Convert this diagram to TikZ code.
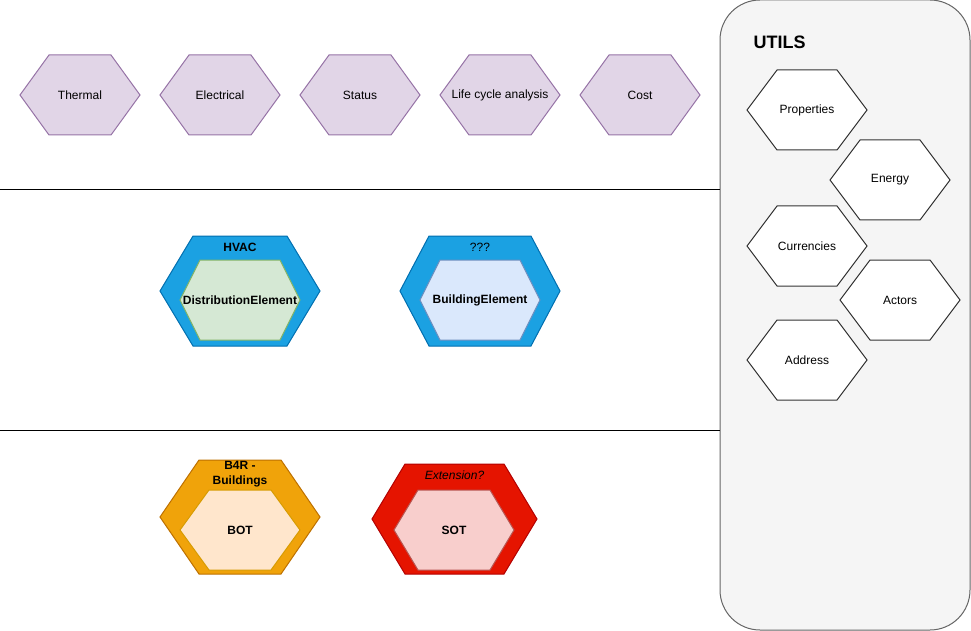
\documentclass[tikz,border=0pt]{standalone}
\usepackage{fontspec}
\setmainfont{Liberation Sans}
\usetikzlibrary{positioning}

\definecolor{purplefill}{HTML}{E1D5E7}
\definecolor{purpleline}{HTML}{9673A6}
\definecolor{bluefill}{HTML}{1BA1E2}
\definecolor{blueline}{HTML}{006EAF}
\definecolor{greenfill}{HTML}{D5E8D4}
\definecolor{greenline}{HTML}{82B366}
\definecolor{paleblue}{HTML}{DAE8FC}
\definecolor{palebline}{HTML}{6C8EBF}
\definecolor{orangefill}{HTML}{F0A30A}
\definecolor{orangeline}{HTML}{BD7000}
\definecolor{peachfill}{HTML}{FFE6CC}
\definecolor{peachline}{HTML}{D79B00}
\definecolor{redfill}{HTML}{E51400}
\definecolor{redline}{HTML}{B20000}
\definecolor{pinkfill}{HTML}{F8CECC}
\definecolor{pinkline}{HTML}{B85450}
\definecolor{utilsfill}{HTML}{F5F5F5}
\definecolor{utilsline}{HTML}{666666}

% hexagon with a named label node: style, name, centre, half width, half height, inset, text
\newcommand{\hexnode}[7]{%
  \path[#1] #3 ++(-#4,0) -- ++(#6,-#5) -- ++({2*#4-2*#6},0) -- ++(#6,#5)
    -- ++(-#6,#5) -- ++({-2*#4+2*#6},0) -- cycle;
  \node[lbl] (#2) at #3 {#7};}

\tikzset{
  lbl/.style={font=\fontsize{9}{11}\selectfont, align=center, inner sep=1pt},
  aspect/.style={fill=purplefill, draw=purpleline, line width=0.75pt},
  util/.style={fill=white, draw=black!80, line width=0.75pt},
  bluecase/.style={fill=bluefill, draw=blueline, line width=0.75pt},
  distcore/.style={fill=greenfill, draw=greenline, line width=0.75pt},
  buildcore/.style={fill=paleblue, draw=palebline, line width=0.75pt},
  orangecase/.style={fill=orangefill, draw=orangeline, line width=0.75pt},
  botcore/.style={fill=peachfill, draw=peachline, line width=0.75pt},
  redcase/.style={fill=redfill, draw=redline, line width=0.75pt},
  sotcore/.style={fill=pinkfill, draw=pinkline, line width=0.75pt},
  utilsbox/.style={fill=utilsfill, draw=utilsline, line width=0.75pt, rounded corners=30pt,
    minimum width=187.5pt, minimum height=472.5pt, inner sep=0pt},
}

\begin{document}
\begin{tikzpicture}[x=0.75pt, y=-0.75pt]
    \useasboundingbox (0,0) rectangle (971,631);

    % utils panel
    \node[utilsbox] (utils) at (845,315) {};
    \node[anchor=west, font=\fontsize{13.5}{16}\selectfont\bfseries] (utilstitle) at (749,42) {UTILS};

    % layer separators
    \draw[line width=0.75pt] (0,190) -- (0,190 -| utils.west);
    \draw[line width=0.75pt] (0,430) -- (0,430 -| utils.west);

    % aspects
    \hexnode{aspect}{thermal}{(80,95)}{60}{40}{29}{Thermal}
    \hexnode{aspect}{electrical}{(220,95)}{60}{40}{29}{Electrical}
    \hexnode{aspect}{status}{(360,95)}{60}{40}{29}{Status}
    \hexnode{aspect}{lca}{(500,95)}{60}{40}{29}{Life cycle analysis}
    \hexnode{aspect}{cost}{(640,95)}{60}{40}{29}{Cost}

    % domain layer
    \hexnode{bluecase}{hvac}{(240,291)}{80}{55}{33}{}
    \node[lbl, font=\fontsize{9}{11}\selectfont\bfseries] (hvaclbl) at (240,247) {HVAC};
    \hexnode{distcore}{distel}{(240,300)}{60}{40}{20}{\textbf{DistributionElement}}
    \hexnode{bluecase}{unknown}{(480,291)}{80}{55}{29}{}
    \node[lbl] (unknownlbl) at (480,247) {???};
    \hexnode{buildcore}{buildel}{(480,300)}{60}{40}{20}{\textbf{BuildingElement}}

    % core layer
    \hexnode{orangecase}{b4r}{(240,517)}{80}{57}{39}{}
    \node[lbl, font=\fontsize{9}{11}\selectfont\bfseries] (b4rlbl) at (240,474) {B4R -\\Buildings};
    \hexnode{botcore}{bot}{(240,530)}{60}{40}{29}{\textbf{BOT}}
    \hexnode{redcase}{ext}{(454.5,519)}{82.5}{55}{33}{}
    \node[lbl, font=\fontsize{9}{11}\selectfont\itshape] (extlbl) at (454.5,475) {Extension?};
    \hexnode{sotcore}{sot}{(454,530)}{60}{40}{24}{\textbf{SOT}}

    % utils
    \hexnode{util}{properties}{(807,110)}{60}{40}{30}{Properties}
    \hexnode{util}{energy}{(890,180)}{60}{40}{30}{Energy}
    \hexnode{util}{currencies}{(807,246)}{60}{40}{30}{Currencies}
    \hexnode{util}{actors}{(900,300)}{60}{40}{30}{Actors}
    \hexnode{util}{address}{(807,360)}{60}{40}{30}{Address}
\end{tikzpicture}
\end{document}
